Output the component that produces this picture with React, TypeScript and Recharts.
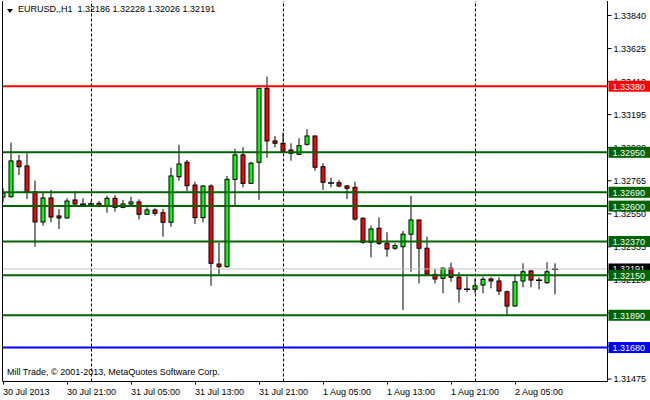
import { Bar, ComposedChart, ReferenceLine, XAxis, YAxis } from "recharts";

// EURUSD H1, 30 Jul 13:00 .. 2 Aug 10:00
const opens = [
  1.32659, 1.32661, 1.32894, 1.32861, 1.32692, 1.32497, 1.32653, 1.32536, 1.32523, 1.3264,
  1.32611, 1.32615, 1.32618, 1.32601, 1.32651, 1.32592, 1.32614, 1.32627, 1.32547, 1.32575,
  1.32557, 1.32495, 1.32791, 1.32885, 1.32737, 1.32525, 1.32731, 1.32223, 1.32206, 1.32774,
  1.32933, 1.32748, 1.32885, 1.33366, 1.33024, 1.33009, 1.32965, 1.32937, 1.33002, 1.33056,
  1.32856, 1.32752, 1.32752, 1.32731, 1.32722, 1.32521, 1.32365, 1.32456, 1.32358, 1.32326,
  1.32336, 1.32417, 1.3251, 1.32326, 1.32156, 1.3213, 1.32196, 1.32137, 1.32061, 1.32059,
  1.32087, 1.32126, 1.32113, 1.32043, 1.3195, 1.32113, 1.32178, 1.32119, 1.32102, 1.32186,
];
const highs = [
  1.32718, 1.33013, 1.32933, 1.32944, 1.32765, 1.3269, 1.32705, 1.32581, 1.32651, 1.32698,
  1.32651, 1.32633, 1.32633, 1.32668, 1.32672, 1.3264, 1.32661, 1.32644, 1.32592, 1.32586,
  1.32581, 1.3285, 1.32998, 1.329, 1.32759, 1.32737, 1.32742, 1.32362, 1.32796, 1.32972,
  1.32983, 1.32889, 1.3337, 1.33442, 1.33056, 1.33078, 1.33009, 1.33041, 1.331, 1.3306,
  1.32879, 1.32785, 1.3277, 1.32737, 1.32759, 1.32527, 1.32473, 1.32527, 1.3243, 1.32358,
  1.32438, 1.32666, 1.32512, 1.32401, 1.32191, 1.32202, 1.32232, 1.3217, 1.32141, 1.3213,
  1.32141, 1.32137, 1.32137, 1.3205, 1.32152, 1.32228, 1.32184, 1.32137, 1.32235, 1.32228,
];
const lows = [
  1.32627, 1.32655, 1.32802, 1.32646, 1.32336, 1.32473, 1.32495, 1.32451, 1.3252, 1.32603,
  1.32603, 1.32596, 1.32601, 1.32557, 1.32564, 1.32586, 1.32607, 1.32514, 1.32545, 1.32538,
  1.32401, 1.32466, 1.32765, 1.32698, 1.32484, 1.32495, 1.32082, 1.32158, 1.322, 1.32607,
  1.32722, 1.32745, 1.3264, 1.32915, 1.32983, 1.3295, 1.32895, 1.32935, 1.32993, 1.3283,
  1.32705, 1.32722, 1.32722, 1.32646, 1.32505, 1.32354, 1.32267, 1.32347, 1.32271, 1.32315,
  1.31924, 1.32173, 1.32098, 1.32156, 1.32098, 1.32033, 1.32108, 1.31972, 1.32039, 1.32033,
  1.32033, 1.32065, 1.32022, 1.31892, 1.31948, 1.32072, 1.32072, 1.32059, 1.32093, 1.32026,
];
const closes = [
  1.32685, 1.32894, 1.32856, 1.32692, 1.32497, 1.32653, 1.32529, 1.32523, 1.32633, 1.32614,
  1.32613, 1.32612, 1.32601, 1.32651, 1.32592, 1.32614, 1.32627, 1.32547, 1.32575, 1.32553,
  1.32495, 1.32796, 1.32874, 1.32733, 1.32525, 1.32731, 1.32228, 1.32206, 1.32774, 1.32933,
  1.32748, 1.32879, 1.33366, 1.33024, 1.33009, 1.32954, 1.32944, 1.32993, 1.33056, 1.32853,
  1.32755, 1.3275, 1.32731, 1.32716, 1.32516, 1.32365, 1.32451, 1.32358, 1.32321, 1.32343,
  1.32417, 1.3251, 1.32326, 1.32158, 1.32126, 1.32196, 1.32137, 1.32061, 1.32058, 1.32082,
  1.32124, 1.32113, 1.32048, 1.3195, 1.32108, 1.32173, 1.32119, 1.32115, 1.32173, 1.32191,
];

const timeTicks = [0, 8, 16, 24, 32, 40, 48, 56, 64];
const timeLabels = [
  "30 Jul 2013", "30 Jul 21:00", "31 Jul 05:00", "31 Jul 13:00", "31 Jul 21:00",
  "1 Aug 05:00", "1 Aug 13:00", "1 Aug 21:00", "2 Aug 05:00",
];
const dayBreaks = [11, 35, 59];

const priceTicks = [
  1.31475, 1.3169, 1.31905, 1.3212, 1.32335, 1.3255, 1.32765, 1.3298, 1.33195, 1.3341,
  1.33625, 1.3384,
];
const resistance = [1.3338];
const supports = [1.3295, 1.3269, 1.326, 1.3237, 1.3215, 1.3189];
const floorLevels = [1.3168];
const lastPrice = 1.32191;

const candles = opens.map((open, i) => ({
  idx: i,
  open,
  high: highs[i],
  low: lows[i],
  close: closes[i],
}));

const FONT = "'Liberation Sans', Arial, sans-serif";
const GREEN_LINE = "#006400";
const X_DOMAIN = [-0.0625, 75.5];
const Y_DOMAIN = [1.314591, 1.339343];
const MARGIN = { top: 1, right: 0, left: 3, bottom: 0 };

// price -> tag colour, drawn in a second layer so the tags sit over the axis labels
const tags: [number, string][] = [
  [lastPrice, "#000"],
  ...supports.map((p): [number, string] => [p, GREEN_LINE]),
  ...resistance.map((p): [number, string] => [p, "#ff0000"]),
  ...floorLevels.map((p): [number, string] => [p, "#0000ff"]),
];

function Candle(props: any) {
  const { x, y, width, height, payload } = props;
  if (!payload || x == null) return null;
  const { open, close, high, low } = payload;
  const cx = x + width / 2;
  const k = high > low ? height / (high - low) : 0;
  const py = (p: number) => y + (high - p) * k;
  const top = py(Math.max(open, close));
  const bot = py(Math.min(open, close));
  const up = close >= open;
  return (
    <g>
      <line x1={cx} x2={cx} y1={py(high)} y2={py(low)} stroke="#000" strokeWidth={1} />
      {bot - top < 1.5 ? (
        <line x1={cx - 3} x2={cx + 3} y1={(top + bot) / 2} y2={(top + bot) / 2} stroke="#000" strokeWidth={1.5} />
      ) : (
        <rect
          x={cx - 2}
          y={top}
          width={4}
          height={bot - top}
          fill={up ? "#00ff00" : "#ff0000"}
          stroke="#000"
          strokeWidth={1}
        />
      )}
    </g>
  );
}

function PriceTag({ viewBox, text, fill }: any) {
  if (!viewBox) return null;
  const x = viewBox.x + viewBox.width + 1;
  const y = viewBox.y;
  return (
    <g>
      <rect x={x} y={y - 5.5} width={43} height={11} fill={fill} />
      <text x={x + 4} y={y + 3.5} fill="#fff" fontSize={9} fontFamily={FONT}>
        {text}
      </text>
    </g>
  );
}

function TimeTick({ x, y, payload }: any) {
  const label = timeLabels[timeTicks.indexOf(payload.value)];
  return (
    <text x={x - 0.5} y={y + 8} fontSize={9} fontFamily={FONT} fill="#000">
      {label}
    </text>
  );
}

export default function App() {
  const last = candles[candles.length - 1];
  return (
    <div
      style={{
        position: "absolute",
        left: 0,
        top: 0,
        width: 650,
        height: 400,
        background: "#fff",
        fontFamily: FONT,
      }}
    >
      <div style={{ position: "absolute", left: 0, top: 0 }}>
        <ComposedChart width={650} height={400} data={candles} margin={MARGIN}>
          <XAxis
            dataKey="idx"
            type="number"
            domain={X_DOMAIN}
            allowDataOverflow
            ticks={timeTicks}
            interval={0}
            height={18.5}
            tickSize={3}
            tickMargin={2}
            axisLine={{ stroke: "#000" }}
            tickLine={{ stroke: "#000" }}
            tick={<TimeTick />}
          />
          <YAxis
            yAxisId="p"
            orientation="right"
            domain={Y_DOMAIN}
            allowDataOverflow
            ticks={priceTicks}
            interval={0}
            width={42.5}
            tickSize={4}
            tickMargin={2}
            axisLine={{ stroke: "#000" }}
            tickLine={{ stroke: "#000" }}
            tick={{ fill: "#000", fontSize: 9, fontFamily: FONT }}
            tickFormatter={(v: number) => v.toFixed(5)}
          />
          <ReferenceLine yAxisId="p" x={-0.125} stroke="#000" ifOverflow="visible" />
          {dayBreaks.map((d) => (
            <ReferenceLine key={d} yAxisId="p" x={d} stroke="#000" strokeDasharray="3 2" />
          ))}
          <ReferenceLine yAxisId="p" y={lastPrice} stroke="#c0c0c0" strokeWidth={1} />
          {supports.map((p) => (
            <ReferenceLine key={p} yAxisId="p" y={p} stroke={GREEN_LINE} strokeWidth={2} />
          ))}
          {resistance.map((p) => (
            <ReferenceLine key={p} yAxisId="p" y={p} stroke="#ff0000" strokeWidth={2} />
          ))}
          {floorLevels.map((p) => (
            <ReferenceLine key={p} yAxisId="p" y={p} stroke="#0000ff" strokeWidth={2} />
          ))}
          <Bar
            yAxisId="p"
            dataKey={(d: any) => [d.low, d.high]}
            barSize={5}
            shape={<Candle />}
            isAnimationActive={false}
          />
        </ComposedChart>
      </div>
      <div style={{ position: "absolute", left: 0, top: 0 }}>
        <ComposedChart width={650} height={400} data={candles} margin={MARGIN}>
          <XAxis
            dataKey="idx"
            type="number"
            domain={X_DOMAIN}
            allowDataOverflow
            height={18.5}
            tick={false}
            axisLine={false}
            tickLine={false}
          />
          <YAxis
            yAxisId="p"
            orientation="right"
            domain={Y_DOMAIN}
            allowDataOverflow
            width={42.5}
            tick={false}
            axisLine={false}
            tickLine={false}
          />
          {tags.map(([p, c]) => (
            <ReferenceLine
              key={p}
              yAxisId="p"
              y={p}
              stroke="none"
              label={<PriceTag text={p.toFixed(5)} fill={c} />}
            />
          ))}
        </ComposedChart>
      </div>
      <div
        style={{
          position: "absolute",
          left: 7,
          top: 9,
          width: 0,
          height: 0,
          borderLeft: "3px solid transparent",
          borderRight: "3px solid transparent",
          borderTop: "4px solid #000",
        }}
      />
      <div
        style={{
          position: "absolute",
          left: 18,
          top: 4,
          fontSize: 9,
          lineHeight: "11px",
          whiteSpace: "pre",
          color: "#000",
        }}
      >
        {`EURUSD,,H1  ${last.open.toFixed(5)} ${last.high.toFixed(5)} ${last.low.toFixed(5)} ${last.close.toFixed(5)}`}
      </div>
      <div
        style={{
          position: "absolute",
          left: 7,
          top: 367,
          fontSize: 9,
          lineHeight: "11px",
          whiteSpace: "pre",
          color: "#000",
        }}
      >
        Mill Trade, © 2001-2013, MetaQuotes Software Corp.
      </div>
    </div>
  );
}
